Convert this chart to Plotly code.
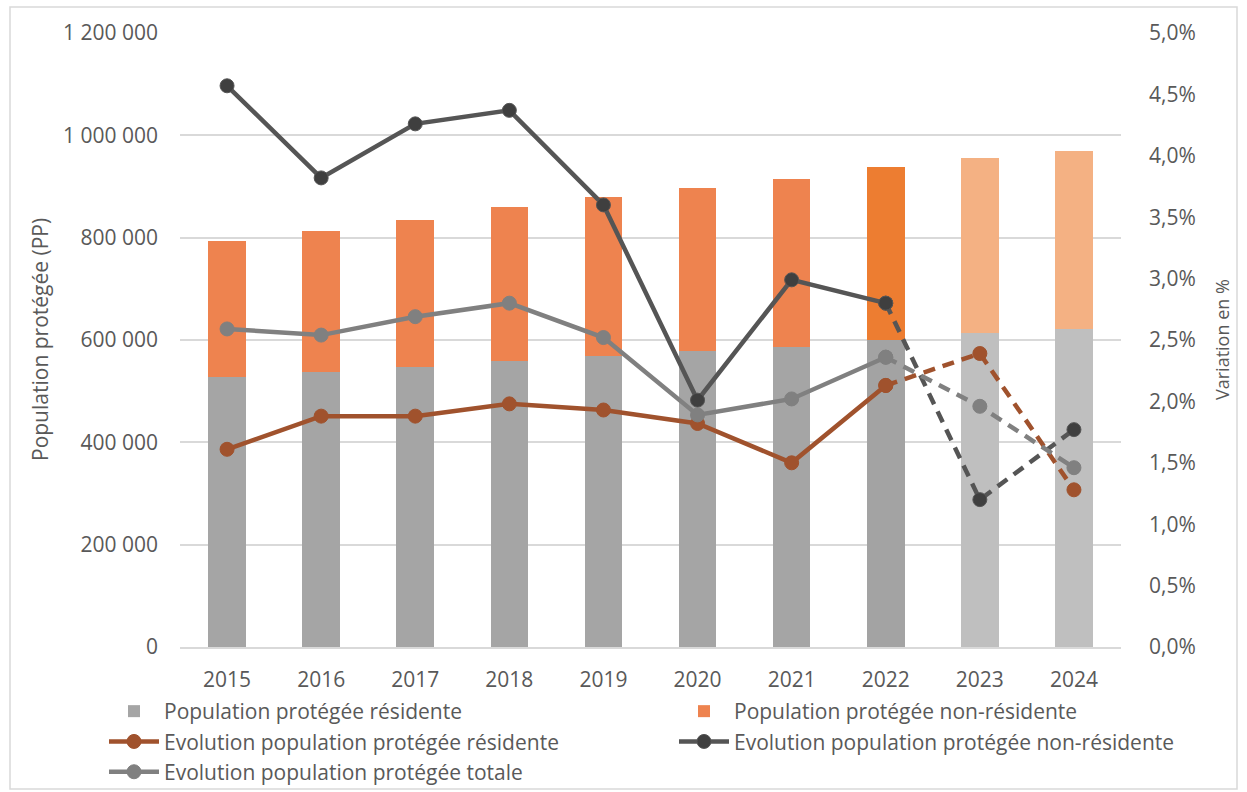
import plotly.graph_objects as go

years = ["2015", "2016", "2017", "2018", "2019", "2020", "2021", "2022", "2023", "2024"]
pop_residente = [527000, 537000, 547000, 558000, 569000, 578000, 587000, 600000, 614000, 622000]
pop_non_residente = [266000, 277000, 288000, 301000, 311000, 319000, 328000, 339000, 342000, 347000]
evol_residente = [1.61, 1.88, 1.88, 1.98, 1.93, 1.82, 1.50, 2.13, 2.39, 1.28]
evol_non_residente = [4.57, 3.82, 4.26, 4.37, 3.60, 2.01, 2.99, 2.80, 1.20, 1.77]
evol_totale = [2.59, 2.54, 2.69, 2.80, 2.52, 1.89, 2.02, 2.36, 1.96, 1.46]
n_observed = 8  # 2015-2022 observed, 2023-2024 projected

res_colors = ["#A5A5A5"] * 7 + ["#A3A3A3"] + ["#BFBFBF"] * 2
nonres_colors = ["#EE834F"] * 7 + ["#ED7D31"] + ["#F4B183"] * 2

FONT = "Open Sans, DejaVu Sans, sans-serif"
TXT = "#595959"
FS = 21

fig = go.Figure()
fig.add_trace(go.Bar(x=years, y=pop_residente, name="Population protégée résidente",
                     marker=dict(color=res_colors, line=dict(width=0)), width=0.4, yaxis="y",
                     legend="legend", legendgroup="a"))
fig.add_trace(go.Bar(x=years, y=pop_non_residente, name="Population protégée non-résidente",
                     marker=dict(color=nonres_colors, line=dict(width=0)), width=0.4, yaxis="y",
                     legend="legend2", legendgroup="b"))

lines = [
    ("Evolution population protégée résidente", evol_residente, "#A0522D", "#A0522D", "legend", "c"),
    ("Evolution population protégée non-résidente", evol_non_residente, "#555555", "#3F3F3F", "legend2", "d"),
    ("Evolution population protégée totale", evol_totale, "#808080", "#808080", "legend", "e"),
]
for name, vals, lc, mc, lg, grp in lines:
    fig.add_trace(go.Scatter(x=years[:n_observed], y=vals[:n_observed], name=name, yaxis="y2",
                             mode="lines+markers", line=dict(color=lc, width=4.5),
                             marker=dict(size=14, color=mc, line=dict(color=lc, width=1)),
                             legend=lg, legendgroup=grp))
    fig.add_trace(go.Scatter(x=years[n_observed - 1:], y=vals[n_observed - 1:], name=name, yaxis="y2",
                             mode="lines+markers", showlegend=False,
                             line=dict(color=lc, width=4.5, dash="12px,8px"),
                             marker=dict(size=14, color=mc, line=dict(color=lc, width=1)),
                             legend=lg, legendgroup=grp))

W, H = 1247, 792
L, R, T, B = 180, 126, 33, 145
pw, ph = W - L - R, H - T - B


def px_x(p):
    return (p - L) / pw


def px_y(p):
    return (H - B - p) / ph


legend_common = dict(orientation="v", xanchor="left", yanchor="top", font=dict(size=FS, color=TXT),
                     bgcolor="rgba(0,0,0,0)", itemwidth=50, tracegroupgap=0, traceorder="grouped")

fig.update_layout(
    width=W, height=H,
    margin=dict(l=L, r=R, t=T, b=B, autoexpand=False),
    paper_bgcolor="white", plot_bgcolor="white",
    barmode="stack",
    separators=", ",
    font=dict(family=FONT, size=FS, color=TXT),
    xaxis=dict(type="category", showgrid=False, showline=True, linecolor="#D9D9D9", linewidth=1.5,
               ticks="", tickfont=dict(size=FS, color=TXT), ticklabelstandoff=13, range=[-0.5, 9.5]),
    yaxis=dict(range=[0, 1200000], dtick=200000, tickformat=",d", showgrid=True, gridcolor="#D9D9D9",
               gridwidth=1.5, zeroline=False, ticks="", tickfont=dict(size=FS, color=TXT),
               ticklabelstandoff=21),
    yaxis2=dict(range=[0, 5], dtick=0.5, tickformat=".1f", ticksuffix="%", overlaying="y", side="right",
                showgrid=False, zeroline=False, ticks="", tickfont=dict(size=FS, color=TXT),
                ticklabelstandoff=27),
    legend=dict(x=px_x(104), y=px_y(691), **legend_common),
    legend2=dict(x=px_x(674), y=px_y(691), **legend_common),
    showlegend=True,
    annotations=[
        dict(text="Population protégée (PP)", x=px_x(40), y=0.5, xref="paper", yref="paper",
             xanchor="center", yanchor="middle",
             textangle=-90, showarrow=False, font=dict(size=FS, color=TXT)),
        dict(text="Variation en %", x=px_x(1222), y=0.5, xref="paper", yref="paper",
             xanchor="center", yanchor="middle",
             textangle=-90, showarrow=False, font=dict(size=18, color=TXT)),
    ],
    shapes=[dict(type="rect", xref="paper", yref="paper", x0=px_x(10), x1=px_x(1237),
                 y0=px_y(789), y1=px_y(7), line=dict(color="#D9D9D9", width=1.5), layer="below")],
)

fig.write_html("out.html", config={"displayModeBar": False},
               post_script="document.body.style.margin='0';document.body.style.overflow='hidden';")
